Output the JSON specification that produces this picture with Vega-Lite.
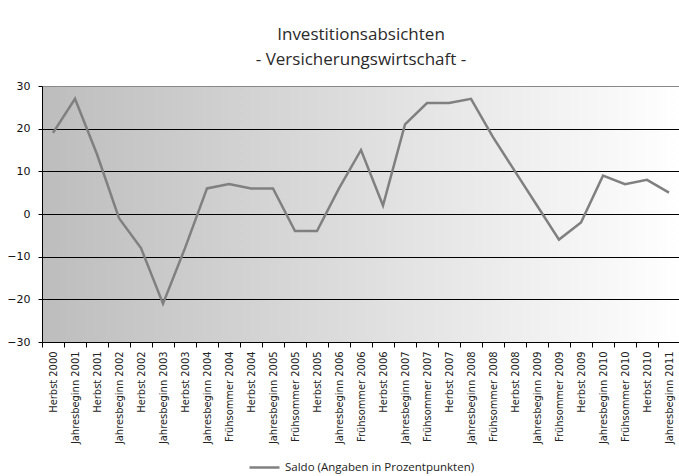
{
  "$schema": "https://vega.github.io/schema/vega-lite/v6.json",
  "width": 638,
  "height": 256,
  "autosize": "none",
  "padding": {"left": 42, "top": 86, "right": 0, "bottom": 134},
  "background": "white",
  "title": {
    "text": ["Investitionsabsichten", "- Versicherungswirtschaft -"],
    "anchor": "middle",
    "frame": "group",
    "font": "Open Sans",
    "fontSize": 17,
    "fontWeight": "normal",
    "color": "#2a2a2a",
    "lineHeight": 25,
    "offset": 11
  },
  "config": {
    "view": {
      "stroke": "#888888",
      "strokeWidth": 1,
      "fill": {
        "gradient": "linear",
        "x1": 0, "y1": 0, "x2": 1, "y2": 0,
        "stops": [
          {"offset": 0, "color": "#bdbdbd"},
          {"offset": 1, "color": "#ffffff"}
        ]
      }
    },
    "legend": {"layout": {"bottom": {"anchor": "middle"}}}
  },
  "data": {
    "values": [
      {"periode": "Herbst 2000", "saldo": 19},
      {"periode": "Jahresbeginn 2001", "saldo": 27},
      {"periode": "Herbst 2001", "saldo": 14},
      {"periode": "Jahresbeginn 2002", "saldo": -1},
      {"periode": "Herbst 2002", "saldo": -8},
      {"periode": "Jahresbeginn 2003", "saldo": -21},
      {"periode": "Herbst 2003", "saldo": -8},
      {"periode": "Jahresbeginn 2004", "saldo": 6},
      {"periode": "Frühsommer 2004", "saldo": 7},
      {"periode": "Herbst 2004", "saldo": 6},
      {"periode": "Jahresbeginn 2005", "saldo": 6},
      {"periode": "Frühsommer 2005", "saldo": -4},
      {"periode": "Herbst 2005", "saldo": -4},
      {"periode": "Jahresbeginn 2006", "saldo": 6},
      {"periode": "Frühsommer 2006", "saldo": 15},
      {"periode": "Herbst 2006", "saldo": 2},
      {"periode": "Jahresbeginn 2007", "saldo": 21},
      {"periode": "Frühsommer 2007", "saldo": 26},
      {"periode": "Herbst 2007", "saldo": 26},
      {"periode": "Jahresbeginn 2008", "saldo": 27},
      {"periode": "Frühsommer 2008", "saldo": 18},
      {"periode": "Herbst 2008", "saldo": 10},
      {"periode": "Jahresbeginn 2009", "saldo": 2},
      {"periode": "Frühsommer 2009", "saldo": -6},
      {"periode": "Herbst 2009", "saldo": -2},
      {"periode": "Jahresbeginn 2010", "saldo": 9},
      {"periode": "Frühsommer 2010", "saldo": 7},
      {"periode": "Herbst 2010", "saldo": 8},
      {"periode": "Jahresbeginn 2011", "saldo": 5}
    ]
  },
  "mark": {"type": "line", "strokeWidth": 2.5, "strokeJoin": "miter"},
  "encoding": {
    "x": {
      "field": "periode",
      "type": "nominal",
      "sort": null,
      "bandPosition": 0.5,
      "scale": {"type": "band", "paddingInner": 0, "paddingOuter": 0},
      "axis": {
        "title": null,
        "labelAngle": -90,
        "labelAlign": "right",
        "labelBaseline": "middle",
        "tickBand": "extent",
        "grid": false,
        "domainColor": "#000000",
        "tickColor": "#000000",
        "tickSize": 5,
        "labelFont": "DejaVu Sans Condensed",
        "labelFontSize": 11,
        "labelColor": "#222222",
        "labelPadding": 4,
        "labelLimit": 0
      }
    },
    "y": {
      "field": "saldo",
      "type": "quantitative",
      "scale": {"domain": [-30, 30], "nice": false, "zero": false},
      "axis": {
        "title": null,
        "values": [-30, -20, -10, 0, 10, 20, 30],
        "grid": true,
        "gridColor": {"condition": {"test": "datum.value === 30", "value": "#888888"}, "value": "#000000"},
        "gridOpacity": 1,
        "domainColor": "#000000",
        "tickColor": "#000000",
        "tickSize": 4,
        "labelFont": "DejaVu Sans",
        "labelFontSize": 11,
        "labelColor": "#111111",
        "labelPadding": 8
      }
    },
    "color": {
      "datum": "Saldo (Angaben in Prozentpunkten)",
      "type": "nominal",
      "scale": {"range": ["#808080"]},
      "legend": {
        "title": null,
        "orient": "bottom",
        "direction": "horizontal",
        "symbolType": "stroke",
        "symbolSize": 900,
        "symbolStrokeWidth": 2.5,
        "labelFont": "Open Sans",
        "labelFontSize": 11.5,
        "labelColor": "#222222",
        "labelLimit": 0,
        "offset": 7
      }
    }
  }
}
